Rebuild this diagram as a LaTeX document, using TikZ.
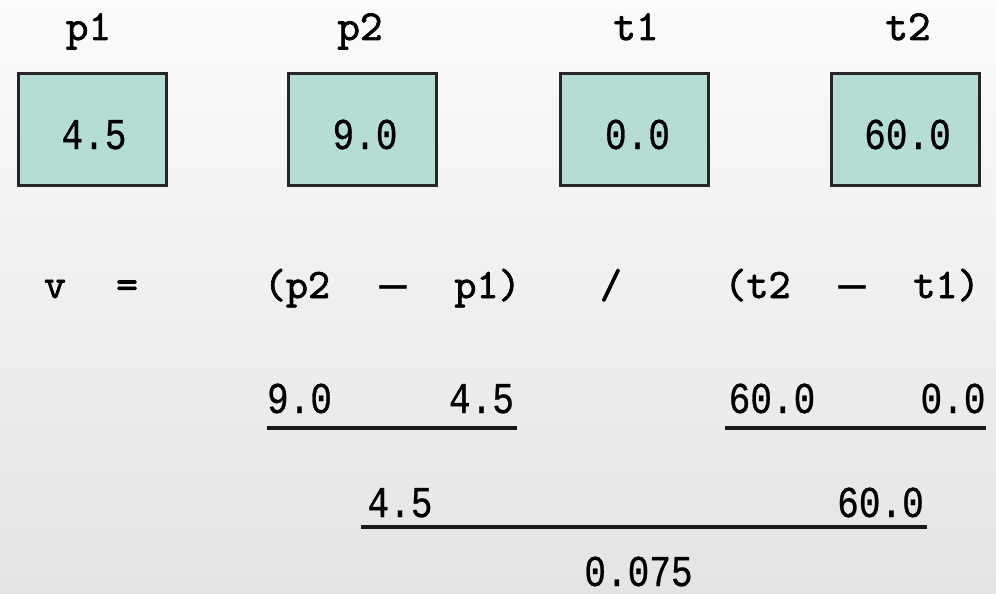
\documentclass[tikz,border=0pt]{standalone}
\usepackage{fontspec}
\newfontfamily\numfont[FakeStretch=0.82,FakeBold=0.6]{Liberation Mono}
\newfontfamily\dashfont[FakeBold=1.5]{Liberation Mono}
\newfontfamily\eqfont[FakeBold=1.6]{lmmono10-regular.otf}
\definecolor{boxfill}{RGB}{181,220,213}
\definecolor{bgtop}{RGB}{251,251,251}
\definecolor{bgbot}{RGB}{228,228,228}
\begin{document}
\begin{tikzpicture}[x=1pt,y=-1pt,
  lbl/.style={font=\eqfont\fontsize{43}{43}\selectfont, anchor=base, inner sep=0pt},
  eq/.style={font=\eqfont\fontsize{42}{42}\selectfont, anchor=base, inner sep=0pt},
  dsh/.style={font=\dashfont\fontsize{44}{44}\selectfont, anchor=base, inner sep=0pt},
  num/.style={font=\numfont\fontsize{44}{44}\selectfont, anchor=base, inner sep=0pt},
  valbox/.style={draw=black!85, line width=3pt, fill=boxfill, minimum width=148pt, minimum height=112pt, inner sep=0pt},
  bar/.style={line width=3.5pt, draw=black!90}]
\shade[top color=bgtop, bottom color=bgbot] (0,0) rectangle (996,594);
\useasboundingbox (0,0) rectangle (996,594);

% labels
\node[lbl] (l1) at (88.5,40) {p1};
\node[lbl] (l2) at (360,40) {p2};
\node[lbl] (l3) at (636,40) {t1};
\node[lbl] (l4) at (908,40) {t2};

% boxes
\node[valbox] (b1) at (92,129.5) {};
\node[valbox] (b2) at (362,129.5) {};
\node[valbox] (b3) at (634.5,129.5) {};
\node[valbox] (b4) at (905.5,129.5) {};
\node[num] (n1) at (94,149) {4.5};
\node[num] (n2) at (365,149) {9.0};
\node[num] (n3) at (637.5,149) {0.0};
\node[num] (n4) at (907.5,149) {60.0};

% formula
\node[eq] (e1) at (55,298) {v};
\node[eq] (e2) at (127,298) {=};
\node[eq] (e3) at (297,298) {(p2};
\node[dsh] (e4) at (393,298) {—};
\node[eq] (e5) at (487.5,298) {p1)};
\node[eq] (e6) at (611,298) {/};
\node[eq] (e7) at (757.5,298) {(t2};
\node[dsh] (e8) at (852,298) {—};
\node[eq] (e9) at (946.5,298) {t1)};

% row 3
\node[num] (r1) at (299.5,413) {9.0};
\node[num] (r2) at (481.5,413) {4.5};
\node[num] (r3) at (772,413) {60.0};
\node[num] (r4) at (953,413) {0.0};
\coordinate (u1a) at (267,428);
\coordinate (u1b) at (517,428);
\coordinate (u2a) at (725,428);
\coordinate (u2b) at (986,428);
\draw[bar] (u1a) -- (u1b);
\draw[bar] (u2a) -- (u2b);

% row 4
\node[num] (s1) at (400,517) {4.5};
\node[num] (s2) at (880.5,517) {60.0};
\coordinate (u3a) at (361,527);
\coordinate (u3b) at (927,527);
\draw[bar] (u3a) -- (u3b);

% result
\node[num] (res) at (638.5,586) {0.075};
\end{tikzpicture}
\end{document}
